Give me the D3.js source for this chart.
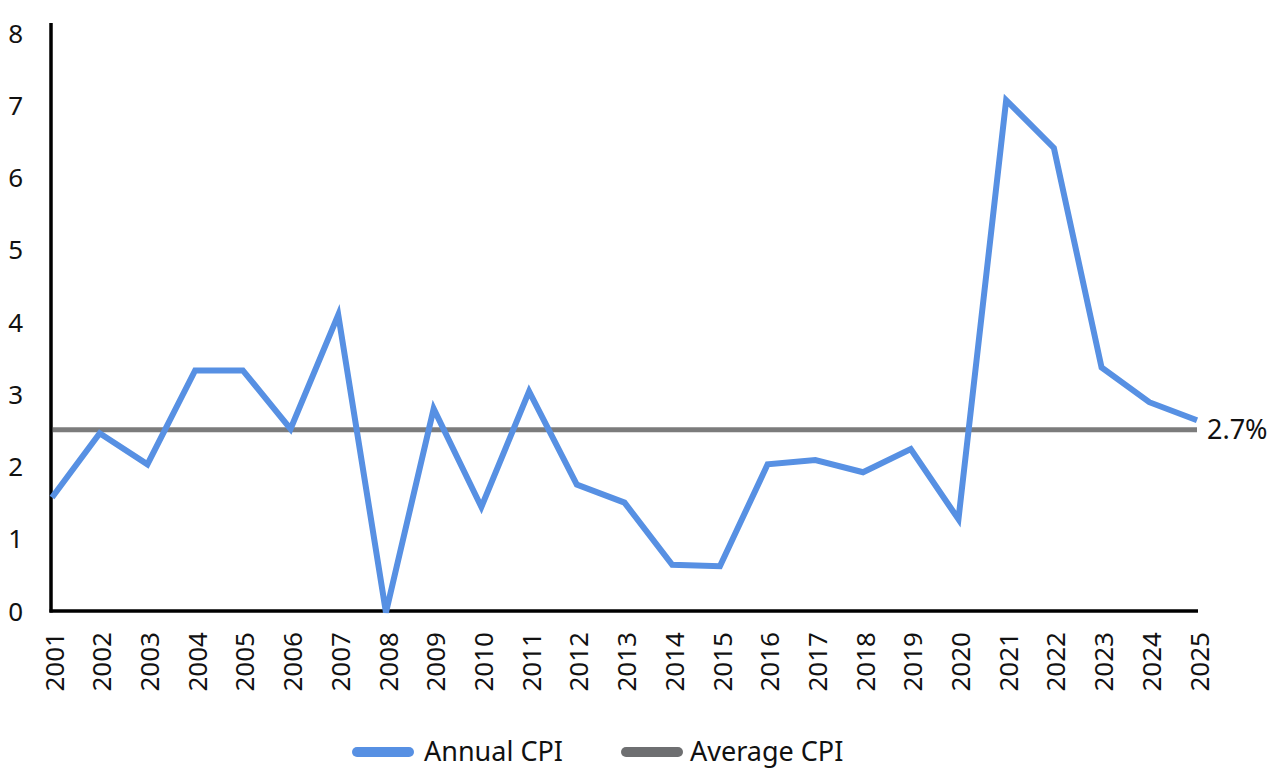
<!DOCTYPE html>
<html>
<head>
<meta charset="utf-8">
<script src="https://cdn.jsdelivr.net/npm/d3@7"></script>
<style>
    body { margin: 0; background: #fff; }
    svg { display: block; font-family: "Noto Sans", "Open Sans", sans-serif; }
    .axis text { fill: #111; font-size: 26px; font-family: "Noto Sans", "Open Sans", sans-serif; }
</style>
</head>
<body>
<svg id="chart"></svg>
<script>
// values
const years = ['2001', '2002', '2003', '2004', '2005', '2006', '2007', '2008', '2009', '2010',
    '2011', '2012', '2013', '2014', '2015', '2016', '2017', '2018', '2019', '2020',
    '2021', '2022', '2023', '2024', '2025'];
const annualCpi = [1.57, 2.46, 2.03, 3.33, 3.33, 2.52, 4.10, -0.02, 2.80, 1.44,
    3.04, 1.75, 1.50, 0.64, 0.62, 2.03, 2.09, 1.92, 2.24, 1.27,
    7.07, 6.41, 3.37, 2.89, 2.64];
const averageCpi = 2.51;
const averageLabel = '2.7%';
const yTicks = [0, 1, 2, 3, 4, 5, 6, 7, 8];
const legendItems = ['Annual CPI', 'Average CPI'];

const width = 1280, height = 775;
const margin = {top: 33, left: 52, right: 83, bottom: 164};

const svg = d3.select('#chart')
    .attr('width', width)
    .attr('height', height);

const x = d3.scalePoint()
    .domain(years)
    .range([margin.left, width - margin.right]);

const y = d3.scaleLinear()
    .domain([0, 8])
    .range([height - margin.bottom, margin.top]);

// y axis: only labels, plus a long black spine
const yAxis = svg.append('g')
    .attr('class', 'axis axis-y')
    .attr('transform', 'translate(' + (margin.left - 1) + ',0)')
    .call(d3.axisLeft(y).tickValues(yTicks).tickSize(0).tickPadding(28));
yAxis.select('.domain').remove();
yAxis.selectAll('text').attr('dy', '0.35em');

svg.append('line')
    .attr('x1', margin.left - 1).attr('x2', margin.left - 1)
    .attr('y1', margin.top - 10).attr('y2', y(0) + 1.5)
    .attr('stroke', '#000').attr('stroke-width', 3.5);

// x axis
const xAxis = svg.append('g')
    .attr('class', 'axis axis-x')
    .attr('transform', 'translate(0,' + y(0) + ')')
    .call(d3.axisBottom(x).tickSize(0).tickPadding(0));
xAxis.select('.domain').remove();
xAxis.selectAll('text')
    .attr('transform', 'rotate(-90)')
    .attr('text-anchor', 'end')
    .attr('x', -21)
    .attr('y', 2)
    .attr('dy', '0.35em');

svg.append('line')
    .attr('x1', margin.left - 2.5).attr('x2', x(years[years.length - 1]) + 1)
    .attr('y1', y(0)).attr('y2', y(0))
    .attr('stroke', '#000').attr('stroke-width', 3.5);

// average line
svg.append('line')
    .attr('x1', margin.left + 1)
    .attr('x2', x(years[years.length - 1]))
    .attr('y1', y(averageCpi))
    .attr('y2', y(averageCpi))
    .attr('stroke', '#7c7c7c')
    .attr('stroke-width', 5);

svg.append('text')
    .attr('x', x(years[years.length - 1]) + 10)
    .attr('y', y(averageCpi))
    .attr('dy', '0.35em')
    .attr('font-size', 27)
    .attr('fill', '#111')
    .text(averageLabel);

// annual line
const line = d3.line()
    .x((d, i) => x(years[i]))
    .y(d => y(d));

svg.append('path')
    .datum(annualCpi)
    .attr('fill', 'none')
    .attr('stroke', '#5790e3')
    .attr('stroke-width', 6)
    .attr('stroke-linejoin', 'miter')
    .attr('d', line);

// legend
const legendColors = ['#5790e3', '#6e6f71'];
const legendX = [357, 626];
const legendTextX = [424, 690];
const legend = svg.append('g')
    .attr('transform', 'translate(0,752)');

legend.selectAll('line')
    .data(legendItems)
  .enter().append('line')
    .attr('x1', (d, i) => legendX[i])
    .attr('x2', (d, i) => legendX[i] + 52)
    .attr('stroke', (d, i) => legendColors[i])
    .attr('stroke-width', 10)
    .attr('stroke-linecap', 'round');

legend.selectAll('text')
    .data(legendItems)
  .enter().append('text')
    .attr('x', (d, i) => legendTextX[i])
    .attr('dy', '0.35em')
    .attr('font-size', 27)
    .attr('fill', '#111')
    .text(d => d);
</script>
</body>
</html>
